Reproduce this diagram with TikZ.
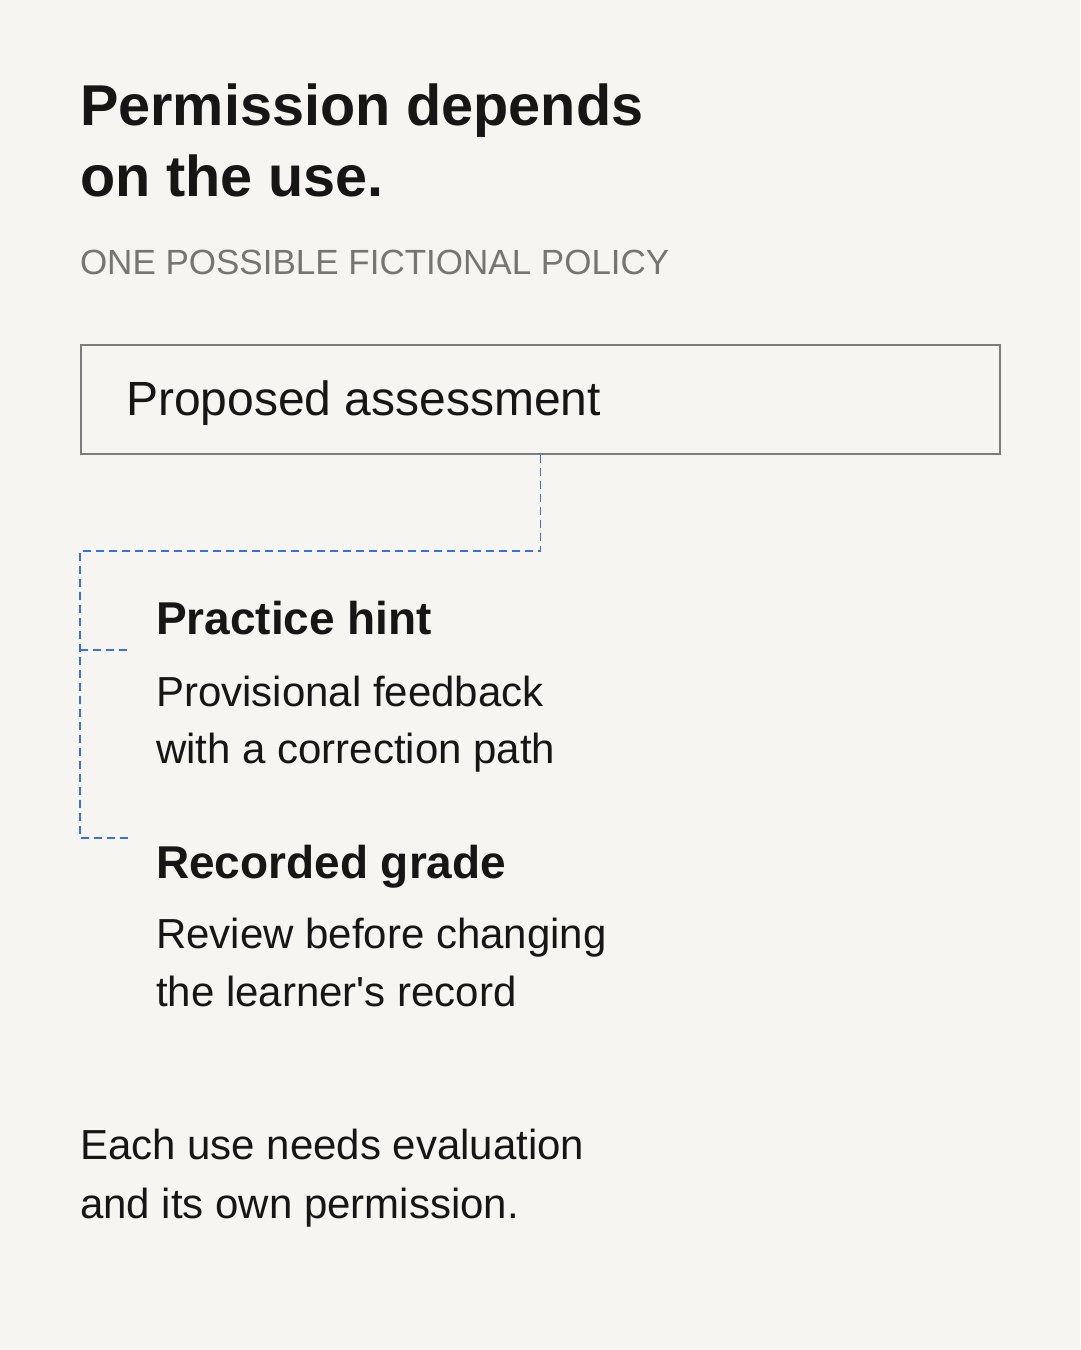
\documentclass[tikz,border=0pt]{standalone}
\usepackage{fontspec}
\setmainfont{Liberation Sans}[Ligatures=TeXOff]
\definecolor{bg}{HTML}{F6F5F1}
\definecolor{ink}{HTML}{161616}
\definecolor{subgray}{HTML}{77756F}
\definecolor{boxgray}{HTML}{7C7C7C}
\definecolor{linkblue}{HTML}{3A6FE0}
\tikzset{
  txt/.style={anchor=base west, inner sep=0pt, outer sep=0pt, text=ink},
  titletxt/.style={txt, font=\fontsize{57.6}{70}\selectfont\bfseries},
  subtxt/.style={txt, text=subgray, font=\fontsize{35}{40}\selectfont},
  boxtxt/.style={txt, font=\fontsize{48}{56}\selectfont},
  headtxt/.style={txt, font=\fontsize{46}{54}\selectfont\bfseries},
  bodytxt/.style={txt, font=\fontsize{42}{57}\selectfont},
  linkline/.style={draw=linkblue, line width=1.5pt, dash pattern=on 8pt off 5pt},
}
\begin{document}
\begin{tikzpicture}[x=1pt,y=-1pt]
\fill[bg] (0,0) rectangle (1080,1350);
\useasboundingbox (0,0) rectangle (1080,1350);
% title
\node[titletxt] (t1) at (80,125) {Permission depends};
\node[titletxt] (t2) at (80,196) {on the use.};
\node[subtxt] (sub) at (80,274) {ONE POSSIBLE FICTIONAL POLICY};
% box
\node[draw=boxgray, line width=1.5pt, minimum width=919pt, minimum height=109pt, inner sep=0pt, anchor=north west] (box) at (80,344) {};
\node[boxtxt] (boxlabel) at (126,415) {Proposed assessment};
% items
\node[headtxt] (hint) at (156,634) {Practice hint};
\node[bodytxt] (hint1) at (156,706) {Provisional feedback};
\node[bodytxt] (hint2) at (156,763) {with a correction path};
\node[headtxt] (grade) at (156,878) {Recorded grade};
\node[bodytxt] (grade1) at (156,948) {Review before changing};
\node[bodytxt] (grade2) at (156,1006) {the learner's record};
% footer
\node[bodytxt] (foot1) at (80,1159) {Each use needs evaluation};
\node[bodytxt] (foot2) at (80,1218) {and its own permission.};
% connectors
\coordinate (split) at (80,551);
\coordinate (hintbranch) at (80,650);
\coordinate (hintend) at (130,650);
\coordinate (gradeend) at (130,838);
\draw[linkline] (box.south) |- (split) |- (gradeend);
\draw[linkline] (hintbranch) -- (hintend);
\end{tikzpicture}
\end{document}
